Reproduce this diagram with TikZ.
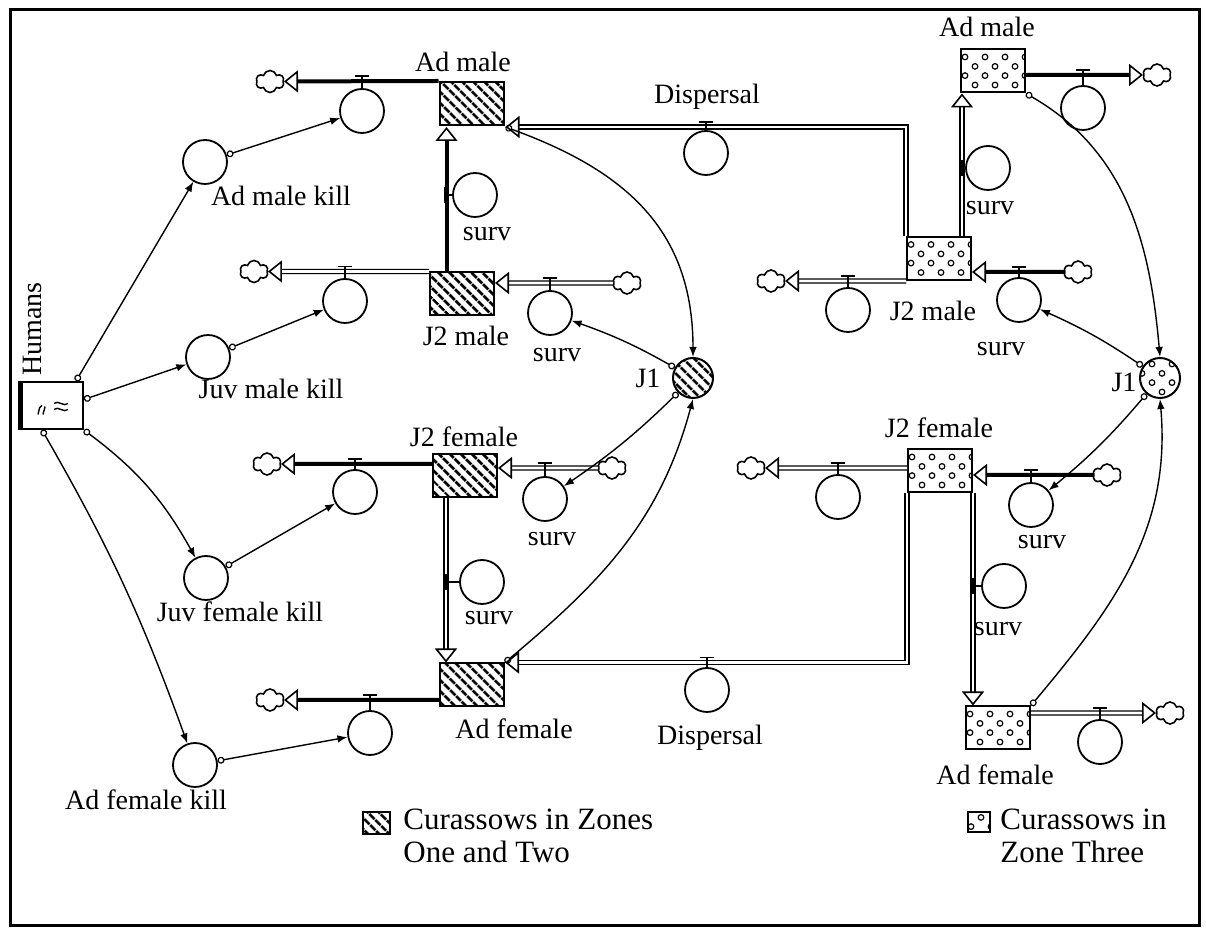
\documentclass[tikz,border=0pt]{standalone}
\usepackage{fontspec}
\setmainfont{Liberation Serif}
\usetikzlibrary{arrows.meta,calc,patterns.meta,shapes.symbols}

\newcommand{\valvebelow}[2]{% converter #1 hangs under the pipe through #2
  \draw[line width=.9pt] (#1.north) -- (#1.north |- #2) -- ++(0,5)
    ++(-7,0) -- ++(14,0);
}
\newcommand{\valveabove}[2]{%
  \draw[line width=.9pt] (#1.south) -- (#1.south |- #2) -- ++(0,-5)
    ++(-7,0) -- ++(14,0);
}
\newcommand{\valveside}[2]{%
  \draw[line width=.9pt] (#1.west) -- (#1.west -| #2);
  \fill (#1.west -| #2) ++(-2.5,-8) rectangle ++(5,16);
}

\begin{document}
\begin{tikzpicture}[x=.5pt,y=.5pt,font=\fontsize{14}{16}\selectfont,
    hstock/.style={draw,line width=1pt,minimum width=32pt,minimum height=21.5pt,inner sep=0pt,
      pattern={Lines[angle=-45,distance=4pt,line width=1.5pt]}},
    dstock/.style={draw,line width=1pt,minimum width=32pt,minimum height=21.5pt,inner sep=0pt,
      path picture={\foreach \dx/\dy in {-14/7,-4/7,6/7,16/7,-9/2.3,1/2.3,11/2.3,
          -14/-2.3,-4/-2.3,6/-2.3,16/-2.3,-9/-7,1/-7,11/-7}
        \draw[line width=.6pt] ([shift={(\dx pt,\dy pt)}]path picture bounding box.center) circle (1.4pt);}},
    conv/.style={circle,draw,line width=.9pt,minimum size=22pt,inner sep=0pt},
    cloudy/.style={cloud,cloud puffs=6,draw,line width=.8pt,minimum width=14pt,minimum height=11pt,inner sep=0pt},
    flowS/.style={line width=2pt,-{Triangle[open,length=7pt,width=11pt,line width=.8pt]}},
    flowD/.style={line width=.7pt,double,double distance=1.3pt,-{Triangle[open,length=7pt,width=11pt,line width=.8pt]}},
    link/.style={line width=.7pt,arrows={Circle[open,length=3.5pt,line width=.6pt]-Latex[length=5pt,width=3.8pt]}}]
  \useasboundingbox (0,0) rectangle (1206,-929);
  \draw[line width=1.5pt] (10,-10) rectangle (1199,-926);

  % stocks, zones one and two
  \node[hstock] (ama) at (472,-104) {};
  \node[hstock] (jma) at (462,-294) {};
  \node[hstock] (jfa) at (465,-476) {};
  \node[hstock] (afa) at (472,-685) {};
  \node[circle,draw,line width=1pt,minimum size=20pt,inner sep=0pt,
    pattern={Lines[angle=-45,distance=4pt,line width=1.5pt]}] (j1a) at (693,-378) {};
  % stocks, zone three
  \node[dstock] (amb) at (993,-71) {};
  \node[dstock] (jmb) at (939,-258.5) {};
  \node[dstock] (jfb) at (940,-471) {};
  \node[dstock] (afb) at (998,-728) {};
  \node[dstock,circle,minimum size=20pt] (j1b) at (1160,-378) {};

  \node (tama) at (463,-62) {Ad male};
  \node (tjma) at (466,-336) {J2 male};
  \node (tjfa) at (464,-437) {J2 female};
  \node (tafa) at (514,-729) {Ad female};
  \node (tj1a) at (648,-378) {J1};
  \node (tamb) at (987,-27) {Ad male};
  \node (tjmb) at (933,-311) {J2 male};
  \node (tjfb) at (939,-428) {J2 female};
  \node (tafb) at (995,-775) {Ad female};
  \node (tj1b) at (1124,-382) {J1};

  % humans and the kills
  \node[draw,line width=1pt,minimum width=31pt,minimum height=23.5pt,inner sep=0pt] (hum) at (52,-405.5) {};
  \draw[line width=2.5pt] (hum.north west) -- (hum.south west);
  \draw[line width=.7pt] ($(hum.center)+(-14,-9)$) .. controls +(2,8) and +(-3,-2) .. +(4,9)
    ($(hum.center)+(-9,-9)$) .. controls +(1,6) and +(0,-4) .. +(2,8);
  \foreach \wy in {2,-4}
    \draw[line width=.7pt] ($(hum.center)+(2,\wy)$) .. controls +(4,4) and +(-4,-4) .. +(14,0);
  \node[rotate=90] (thum) at (32,-329) {Humans};

  \node[conv] (kam) at (205,-162) {};
  \node[conv] (kjm) at (208,-357) {};
  \node[conv] (kjf) at (206,-578) {};
  \node[conv] (kaf) at (195,-765) {};
  \node (tkam) at (281,-196) {Ad male kill};
  \node (tkjm) at (271,-389) {Juv male kill};
  \node (tkjf) at (240,-612) {Juv female kill};
  \node (tkaf) at (146,-800) {Ad female kill};

  % clouds
  \node[cloudy] (cama) at (270,-81.5) {};
  \node[cloudy] (cjmao) at (254,-271.5) {};
  \node[cloudy] (cjmai) at (627,-283) {};
  \node[cloudy] (cjfao) at (267,-464) {};
  \node[cloudy] (cjfai) at (612,-468) {};
  \node[cloudy] (cafa) at (270,-700) {};
  \node[cloudy] (camb) at (1157,-75) {};
  \node[cloudy] (cjmbo) at (771,-281) {};
  \node[cloudy] (cjmbi) at (1078,-272) {};
  \node[cloudy] (cjfbo) at (751,-468) {};
  \node[cloudy] (cjfbi) at (1107,-475) {};
  \node[cloudy] (cafb) at (1170,-713) {};

  % flow converters
  \node[conv] (vama) at (362,-111) {};
  \node[conv] (vjma) at (345,-301) {};
  \node[conv] (sjma) at (550,-313) {};
  \node[conv] (sama) at (475,-195) {};
  \node[conv] (vjfa) at (355,-492) {};
  \node[conv] (sjfa) at (545,-499) {};
  \node[conv] (safa) at (482,-582) {};
  \node[conv] (vafa) at (370,-733) {};
  \node[conv] (dspu) at (706,-153) {};
  \node[conv] (dspl) at (707,-690) {};
  \node[conv] (vamb) at (1083,-108) {};
  \node[conv] (samb) at (988,-168) {};
  \node[conv] (vjmb) at (848,-310) {};
  \node[conv] (sjmb) at (1019,-300) {};
  \node[conv] (vjfb) at (838,-497) {};
  \node[conv] (sjfb) at (1031,-505) {};
  \node[conv] (safb) at (1004,-586) {};
  \node[conv] (vafb) at (1100,-742) {};

  \node (tsama) at (487,-234) {surv};
  \node (tsjma) at (557,-355) {surv};
  \node (tsjfa) at (552,-539) {surv};
  \node (tsafa) at (489,-618) {surv};
  \node (tsamb) at (990,-208) {surv};
  \node (tsjmb) at (1001,-349) {surv};
  \node (tsjfb) at (1042,-542) {surv};
  \node (tsafb) at (998,-629) {surv};
  \node (tdspu) at (707,-97) {Dispersal};
  \node (tdspl) at (710,-738) {Dispersal};

  % pipes
  \coordinate (sma) at ([xshift=4pt]ama.south west);
  \coordinate (sfa) at ([xshift=7pt]jfa.south west);
  \coordinate (smb) at ([xshift=-5pt]jmb.north east);
  \draw[flowS] (ama.north west) -- (cama);
  \draw[flowS] (sma |- jma.north) -- (sma);
  \draw[flowD] (jma.north west) -- (cjmao);
  \draw[flowD] (cjmai) -- (cjmai -| jma.east);
  \draw[flowS] (cjfao -| jfa.west) -- (cjfao);
  \draw[flowD] (cjfai) -- (cjfai -| jfa.east);
  \draw[flowD] (sfa) -- (sfa |- afa.north);
  \draw[flowS] (cafa -| afa.west) -- (cafa);
  \draw[flowD] (jmb.north west) |- (ama.south east);
  \draw[flowD] (jfb.south west) |- (afa.north east);
  \draw[flowS] (camb -| amb.east) -- (camb);
  \draw[flowD] (smb) -- (smb |- amb.south);
  \draw[flowD] (cjmbo -| jmb.west) -- (cjmbo);
  \draw[flowS] (cjmbi) -- (cjmbi -| jmb.east);
  \draw[flowD] (cjfbo -| jfb.west) -- (cjfbo);
  \draw[flowS] (cjfbi) -- (cjfbi -| jfb.east);
  \draw[flowD] (jfb.south east) -- (jfb.south east |- afb.north);
  \draw[flowD] (cafb -| afb.east) -- (cafb);

  % valves
  \valvebelow{vama}{ama.north}
  \valvebelow{vjma}{jma.north}
  \valvebelow{sjma}{cjmai}
  \valveside{sama}{sma}
  \valvebelow{vjfa}{cjfao}
  \valvebelow{sjfa}{cjfai}
  \valveside{safa}{sfa}
  \valvebelow{vafa}{cafa}
  \valvebelow{dspu}{ama.south}
  \valvebelow{dspl}{afa.north}
  \valvebelow{vamb}{camb}
  \valveside{samb}{smb}
  \valvebelow{vjmb}{cjmbo}
  \valvebelow{sjmb}{cjmbi}
  \valvebelow{vjfb}{cjfbo}
  \valvebelow{sjfb}{cjfbi}
  \valveside{safb}{jfb.south east}
  \valvebelow{vafb}{cafb}

  % connectors
  \draw[link] ([xshift=-4pt]hum.north east) -- (kam);
  \draw[link] ([yshift=3pt]hum.east) -- (kjm);
  \draw[link] (hum.south east) to[bend left=12] (kjf);
  \draw[link] ([xshift=-5pt]hum.south) to[bend left=5] (kaf);
  \draw[link] (kam) -- (vama);
  \draw[link] (kjm) -- (vjma);
  \draw[link] (kjf) -- (vjfa);
  \draw[link] (kaf) -- (vafa);
  \draw[link] (ama.south east) to[out=-20,in=90,looseness=1.1] (j1a.north);
  \draw[link] (afa.north east) to[out=40,in=-105] (j1a.south);
  \draw[link] (j1a) to[bend right=5] (sjma);
  \draw[link] (j1a) to[bend left=5] (sjfa);
  \draw[link] (amb.south east) to[out=-30,in=95] (j1b.north);
  \draw[link] (afb.north east) to[out=50,in=-85] (j1b.south);
  \draw[link] (j1b) to[bend right=5] (sjmb);
  \draw[link] (j1b) to[bend left=5] (sjfb);

  % key
  \node[hstock,minimum width=13.5pt,minimum height=11pt] (keya) at (376,-823) {};
  \node[anchor=north west,align=left,inner sep=0pt,font=\fontsize{15.5}{16.5}\selectfont]
    (tkeya) at (403,-809) {Curassows in Zones\\One and Two};
  \node[dstock,minimum width=11pt,minimum height=10pt] (keyb) at (979,-822) {};
  \node[anchor=north west,align=left,inner sep=0pt,font=\fontsize{15.5}{16.5}\selectfont]
    (tkeyb) at (1000,-809) {Curassows in\\Zone Three};
\end{tikzpicture}
\end{document}
